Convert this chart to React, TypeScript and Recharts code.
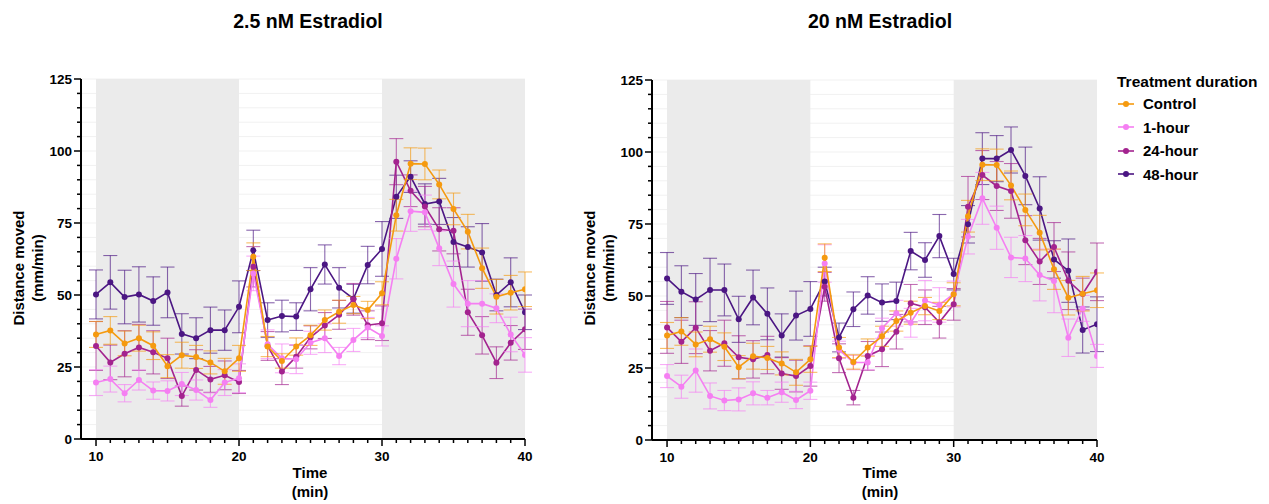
import {
  CartesianGrid,
  ErrorBar,
  Line,
  LineChart,
  ReferenceArea,
  XAxis,
  YAxis,
} from "recharts";

const minutes = [
  10, 11, 12, 13, 14, 15, 16, 17, 18, 19, 20, 21, 22, 23, 24, 25, 26, 27, 28, 29, 30,
  31, 32, 33, 34, 35, 36, 37, 38, 39, 40,
];
const xTicks = minutes;
const yTicks = [0, 5, 10, 15, 20, 25, 30, 35, 40, 45, 50, 55, 60, 65, 70, 75, 80, 85, 90, 95, 100, 105, 110, 115, 120, 125];
const yLabels = [0, 25, 50, 75, 100, 125];
const xLabels = [10, 20, 30, 40];

// shared control group
const controlMean = [
  36.3, 37.7, 33.2, 35.0, 32.4, 25.3, 29.1, 28.5, 26.6, 23.5, 28.0, 63.3, 32.1, 27.1, 32.1,
  36.0, 41.3, 44.2, 46.5, 44.8, 50.6, 77.7, 95.6, 95.5, 88.4, 79.9, 72.0, 59.3, 49.4, 50.8, 52.0,
];
const controlErr = [
  4.5, 4.8, 4.3, 4.5, 4.8, 4.0, 4.5, 4.0, 4.0, 4.5, 4.5, 4.8, 3.5, 2.5, 3.0, 3.5, 3.5, 4.0,
  3.0, 3.0, 4.0, 5.5, 5.5, 5.5, 5.0, 5.5, 6.0, 7.0, 6.0, 6.0, 6.0,
];

// 2.5 nM
const low1h = [
  19.6, 20.8, 15.9, 20.5, 16.8, 16.7, 19.1, 17.0, 13.5, 19.6, 21.1, 57.5, 32.9, 28.0, 27.7,
  33.4, 35.0, 28.8, 34.4, 38.7, 35.8, 62.6, 79.1, 78.7, 66.2, 53.8, 47.0, 47.0, 45.4, 36.3, 29.2,
];
const low1hErr = [
  4.5, 4.5, 3.0, 3.5, 3.0, 3.5, 4.0, 3.5, 2.5, 4.5, 5.0, 6.0, 5.0, 5.0, 5.0, 4.0, 5.0, 3.0,
  4.0, 3.5, 3.5, 7.0, 7.0, 6.0, 6.0, 8.0, 8.0, 8.0, 5.0, 6.0, 6.0,
];
const low24h = [
  32.3, 26.6, 29.6, 31.8, 30.1, 28.0, 14.9, 24.0, 20.7, 22.1, 19.8, 59.8, 32.3, 23.4, 28.6,
  35.3, 39.4, 43.1, 48.5, 39.5, 40.2, 96.3, 86.2, 80.7, 72.8, 72.3, 44.0, 36.0, 26.5, 33.4, 38.1,
];
const low24hErr = [
  8.5, 6.0, 8.0, 8.0, 7.5, 7.0, 3.5, 7.0, 4.5, 5.0, 4.0, 7.0, 5.0, 4.5, 4.0, 4.0, 4.5, 5.0,
  5.5, 5.0, 6.0, 8.0, 5.5, 7.0, 7.5, 8.0, 8.0, 6.5, 5.5, 6.0, 7.0,
];
const low48h = [
  50.2, 54.4, 49.3, 50.2, 47.9, 50.9, 36.5, 35.0, 37.8, 37.8, 45.9, 65.5, 41.3, 42.7, 42.5,
  52.0, 60.6, 52.5, 48.7, 60.4, 66.0, 84.1, 91.1, 81.6, 82.5, 68.4, 66.7, 64.8, 50.0, 54.4, 44.0,
];
const low48hErr = [
  8.5, 9.3, 9.3, 9.6, 8.4, 8.8, 7.0, 7.1, 8.0, 7.0, 9.0, 7.0, 6.0, 5.5, 4.8, 7.5, 6.8, 7.0,
  5.0, 6.5, 9.5, 7.5, 5.5, 7.0, 8.0, 8.5, 7.0, 10.0, 5.5, 8.5, 6.0,
];

// 20 nM
const high1h = [
  22.2, 18.5, 24.1, 15.3, 13.7, 14.1, 16.2, 14.7, 16.6, 13.9, 17.1, 61.3, 31.3, 26.9, 26.9,
  38.8, 44.0, 40.7, 48.4, 46.9, 50.7, 70.6, 83.9, 73.7, 63.4, 63.0, 57.3, 55.2, 35.5, 45.7, 29.2,
];
const high1hErr = [
  4.0, 4.0, 7.5, 4.5, 3.5, 4.0, 4.0, 2.5, 3.5, 3.0, 3.0, 6.5, 3.0, 2.5, 2.5, 3.5, 4.5, 5.0,
  7.0, 6.0, 4.5, 6.0, 9.0, 7.5, 7.0, 8.0, 9.0, 11.0, 6.5, 4.5, 4.0,
];
const high24h = [
  39.1, 34.1, 39.0, 31.0, 33.6, 28.7, 28.0, 29.5, 23.1, 22.2, 25.7, 53.2, 28.4, 14.7, 29.2,
  31.5, 37.6, 47.5, 46.1, 40.9, 47.1, 81.0, 92.0, 88.2, 86.5, 69.4, 62.0, 67.0, 55.3, 50.7, 58.4,
];
const high24hErr = [
  9.0, 7.5, 9.0, 7.0, 8.0, 7.5, 6.5, 6.5, 5.5, 5.5, 7.0, 5.0, 5.0, 2.5, 5.0, 6.0, 6.0, 6.5,
  6.0, 5.5, 5.5, 10.5, 8.5, 8.5, 9.5, 8.5, 8.0, 8.5, 10.0, 5.5, 10.0,
];
const high48h = [
  56.1, 51.5, 48.8, 52.1, 52.1, 41.9, 49.5, 43.8, 36.3, 43.2, 45.5, 55.0, 35.6, 45.4, 50.2,
  47.7, 48.3, 65.6, 62.5, 70.8, 57.6, 74.9, 97.7, 97.7, 100.7, 91.7, 80.4, 62.7, 58.8, 38.2, 40.2,
];
const high48hErr = [
  9.0, 9.0, 9.0, 11.0, 9.0, 8.0, 9.5, 9.0, 7.5, 8.5, 9.5, 5.0, 5.0, 6.0, 6.5, 6.5, 6.5, 6.5,
  6.0, 7.5, 5.5, 6.5, 9.0, 8.0, 8.0, 10.0, 11.0, 6.5, 11.0, 8.0, 9.5,
];

const FONT = "'Liberation Sans', Arial, Helvetica, sans-serif";

const SERIES = [
  { key: "h48", name: "48-hour", color: "#4b1683" },
  { key: "h24", name: "24-hour", color: "#a3238f" },
  { key: "h1", name: "1-hour", color: "#f57ff2" },
  { key: "ctrl", name: "Control", color: "#f59a0f" },
];
const LEGEND_ORDER = ["ctrl", "h1", "h24", "h48"];

function buildRows(h1: number[], h1e: number[], h24: number[], h24e: number[], h48: number[], h48e: number[]) {
  return minutes.map((m, i) => ({
    minute: m,
    ctrl: controlMean[i],
    ctrlErr: controlErr[i],
    h1: h1[i],
    h1Err: h1e[i],
    h24: h24[i],
    h24Err: h24e[i],
    h48: h48[i],
    h48Err: h48e[i],
  }));
}

const lowRows = buildRows(low1h, low1hErr, low24h, low24hErr, low48h, low48hErr);
const highRows = buildRows(high1h, high1hErr, high24h, high24hErr, high48h, high48hErr);

function XTick(props: any) {
  const { x, y, payload } = props;
  const major = xLabels.includes(payload.value);
  return (
    <g>
      <line x1={x} x2={x} y1={y} y2={y + (major ? 7 : 4)} stroke="#000" strokeWidth={1.5} />
      {major && (
        <text x={x} y={y + 22} textAnchor="middle" fontFamily={FONT} fontWeight={700} fontSize={13.5} fill="#000">
          {payload.value}
        </text>
      )}
    </g>
  );
}

function YTick(props: any) {
  const { x, y, payload } = props;
  const major = yLabels.includes(payload.value);
  return (
    <g>
      <line x1={x} x2={x - (major ? 7 : 4)} y1={y} y2={y} stroke="#000" strokeWidth={1.5} />
      {major && (
        <text x={x - 9} y={y + 4.5} textAnchor="end" fontFamily={FONT} fontWeight={700} fontSize={13.5} fill="#000">
          {payload.value}
        </text>
      )}
    </g>
  );
}

function Panel({ rows, left, top, plotLeft, plotRight, plotTop, plotBottom }: any) {
  const W = 560;
  const H = 504;
  return (
    <div style={{ position: "absolute", left, top }}>
      <LineChart
        width={W}
        height={H}
        data={rows}
        margin={{ top: plotTop, right: W - plotRight, bottom: H - plotBottom - 30, left: plotLeft - 50 }}
      >
        <ReferenceArea x1={10} x2={20} y1={0} y2={125} fill="#ebebeb" fillOpacity={1} stroke="none" />
        <ReferenceArea x1={30} x2={40} y1={0} y2={125} fill="#ebebeb" fillOpacity={1} stroke="none" />
        <CartesianGrid vertical={false} stroke="#f1f1f1" strokeWidth={1} />
        <XAxis
          dataKey="minute"
          type="number"
          domain={[8.95, 40]}
          allowDataOverflow
          ticks={xTicks}
          interval={0}
          height={30}
          tickSize={0}
          tickMargin={0}
          tickLine={false}
          tick={<XTick />}
          axisLine={{ stroke: "#000", strokeWidth: 2 }}
        />
        <YAxis
          type="number"
          domain={[0, 125]}
          ticks={yTicks}
          interval={0}
          width={50}
          tickSize={0}
          tickMargin={0}
          tickLine={false}
          tick={<YTick />}
          axisLine={{ stroke: "#000", strokeWidth: 2 }}
        />
        {SERIES.map((s) => (
          <Line
            key={s.key}
            dataKey={s.key}
            name={s.name}
            stroke={s.color}
            strokeWidth={1.6}
            dot={{ r: 3, fill: s.color, stroke: s.color, strokeWidth: 0 }}
            activeDot={false}
            isAnimationActive={false}
          >
            <ErrorBar
              dataKey={`${s.key}Err`}
              direction="y"
              width={7}
              stroke={s.color}
              strokeOpacity={0.65}
              strokeWidth={1.1}
              isAnimationActive={false}
            />
          </Line>
        ))}
      </LineChart>
    </div>
  );
}

const titleStyle: any = {
  position: "absolute",
  fontFamily: FONT,
  fontWeight: 700,
  fontSize: 19.5,
  color: "#000",
  transform: "translate(-50%, -50%)",
  whiteSpace: "nowrap",
};
const labelStyle: any = {
  position: "absolute",
  fontFamily: FONT,
  fontWeight: 700,
  fontSize: 15,
  color: "#000",
  textAlign: "center",
  lineHeight: "19px",
  whiteSpace: "nowrap",
};

function YLabel({ x, y }: { x: number; y: number }) {
  return (
    <div style={{ ...labelStyle, left: x, top: y, transform: "translate(-50%, -50%) rotate(-90deg)" }}>
      Distance moved
      <br />
      (mm/min)
    </div>
  );
}

function XLabel({ x, y }: { x: number; y: number }) {
  return (
    <div style={{ ...labelStyle, left: x, top: y, transform: "translate(-50%, -50%)" }}>
      Time
      <br />
      (min)
    </div>
  );
}

export default function App() {
  return (
    <div style={{ position: "absolute", left: 0, top: 0, width: 1269, height: 504, background: "#fff", overflow: "hidden" }}>
      <Panel rows={lowRows} left={0} top={0} plotLeft={81} plotRight={525} plotTop={79} plotBottom={439} />
      <Panel rows={highRows} left={570} top={0} plotLeft={82} plotRight={527} plotTop={80} plotBottom={440} />

      <div style={{ ...titleStyle, left: 308, top: 21 }}>2.5 nM Estradiol</div>
      <div style={{ ...titleStyle, left: 880, top: 21 }}>20 nM Estradiol</div>

      <YLabel x={28} y={268} />
      <YLabel x={599} y={268} />
      <XLabel x={310} y={482} />
      <XLabel x={880} y={482} />

      <div style={{ position: "absolute", left: 1117, top: 72, fontFamily: FONT, fontWeight: 700, fontSize: 15, color: "#000" }}>
        <div style={{ height: 20, lineHeight: "20px", fontSize: 15.5 }}>Treatment duration</div>
        {LEGEND_ORDER.map((k) => {
          const s = SERIES.find((d) => d.key === k)!;
          return (
            <div key={k} style={{ display: "flex", alignItems: "center", height: 23.5 }}>
              <svg width={20} height={10} style={{ marginRight: 6 }}>
                <line x1={1} x2={17} y1={5} y2={5} stroke={s.color} strokeWidth={1.6} />
                <circle cx={9} cy={5} r={3} fill={s.color} />
              </svg>
              <span>{s.name}</span>
            </div>
          );
        })}
      </div>
    </div>
  );
}
